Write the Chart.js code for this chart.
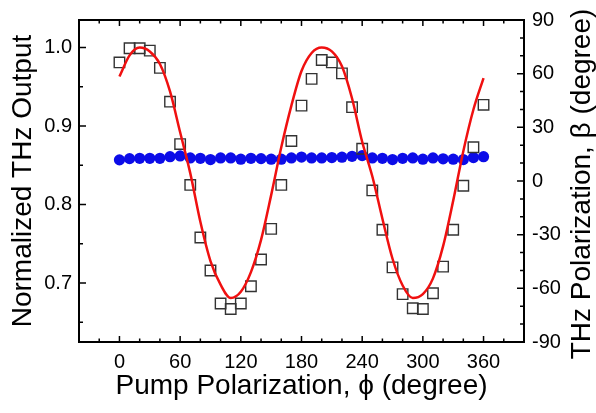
<!DOCTYPE html>
<html>
<head>
<meta charset="utf-8">
<script src="https://cdn.jsdelivr.net/npm/chart.js@4.4.0/dist/chart.umd.min.js"></script>
<style>
  html, body { margin: 0; padding: 0; background: #fff; }
</style>
</head>
<body>
<canvas id="chart" width="596" height="413"></canvas>
<script>
// --- DATA ---
const pumpAngles = [0, 10, 20, 30, 40, 50, 60, 70, 80, 90, 100, 110, 120, 130, 140, 150, 160, 170, 180,
                    190, 200, 210, 220, 230, 240, 250, 260, 270, 280, 290, 300, 310, 320, 330, 340, 350, 360];

// open squares, left axis
const thzOutput = [0.981, 0.999, 0.999, 0.996, 0.974, 0.931, 0.877, 0.825, 0.758, 0.716, 0.674, 0.667, 0.674,
                   0.696, 0.730, 0.769, 0.825, 0.881, 0.926, 0.960, 0.984, 0.981, 0.967, 0.924, 0.871, 0.818,
                   0.768, 0.720, 0.686, 0.668, 0.667, 0.687, 0.721, 0.768, 0.824, 0.873, 0.927];

// red fit curve, left axis
const fitOutput = [0.963, 0.990, 1.000, 0.995, 0.979, 0.944, 0.892, 0.840, 0.778, 0.728, 0.698, 0.681, 0.689,
                   0.714, 0.755, 0.812, 0.873, 0.926, 0.970, 0.993, 1.000, 0.995, 0.976, 0.935, 0.880, 0.836,
                   0.782, 0.731, 0.697, 0.681, 0.686, 0.706, 0.747, 0.805, 0.868, 0.921, 0.961];

// blue dots, right axis
const thzPolarization = [11.8, 12.5, 12.7, 12.7, 12.7, 13.6, 14.0, 12.9, 12.7, 12.0, 12.9, 12.9, 12.2,
                         12.7, 12.5, 12.2, 12.2, 12.9, 13.4, 12.9, 12.9, 13.1, 13.3, 13.8, 14.2, 12.9,
                         12.7, 12.0, 12.7, 12.9, 12.2, 12.9, 12.4, 12.2, 12.0, 13.1, 13.6];

const xTicks = [0, 60, 120, 180, 240, 300, 360];
const xMinorTicks = [-20, 20, 40, 80, 100, 140, 160, 200, 220, 260, 280, 320, 340, 380];
const leftTicks = [0.7, 0.8, 0.9, 1.0];
const leftMinorTicks = [0.65, 0.75, 0.85, 0.95];
const rightTicks = [-90, -60, -30, 0, 30, 60, 90];
const rightMinorTicks = [-80, -70, -50, -40, -20, -10, 10, 20, 40, 50, 70, 80];

const FONT = '"Liberation Sans", Arial, sans-serif';

const toPoints = (xs, ys) => xs.map((x, i) => ({ x: x, y: ys[i] }));

// --- inward ticks + frame ---
const frameAndTicks = {
    id: 'frameAndTicks',
    afterDatasetsDraw(chart) {
        const { ctx, chartArea: a, scales } = chart;
        ctx.save();
        ctx.strokeStyle = '#000';
        ctx.lineWidth = 1.5;
        ctx.beginPath();
        const vTick = (v, len) => {
            const px = scales.x.getPixelForValue(v);
            ctx.moveTo(px, a.bottom); ctx.lineTo(px, a.bottom - len);
            ctx.moveTo(px, a.top); ctx.lineTo(px, a.top + len);
        };
        xTicks.forEach(v => vTick(v, 6));
        xMinorTicks.forEach(v => vTick(v, 3.5));
        const lTick = (v, len) => {
            const py = scales.y.getPixelForValue(v);
            ctx.moveTo(a.left, py); ctx.lineTo(a.left + len, py);
        };
        leftTicks.forEach(v => lTick(v, 7));
        leftMinorTicks.forEach(v => lTick(v, 4));
        const rTick = (v, len) => {
            const py = scales.y1.getPixelForValue(v);
            ctx.moveTo(a.right, py); ctx.lineTo(a.right - len, py);
        };
        rightTicks.forEach(v => rTick(v, 7));
        rightMinorTicks.forEach(v => rTick(v, 4));
        ctx.stroke();

        ctx.lineWidth = 2;
        ctx.strokeRect(a.left, a.top, a.right - a.left, a.bottom - a.top);

        // right title reads bottom to top, like the left one
        ctx.fillStyle = '#000';
        ctx.font = '28px ' + FONT;
        ctx.textAlign = 'center';
        ctx.textBaseline = 'middle';
        ctx.translate(582, 184);
        ctx.rotate(-Math.PI / 2);
        ctx.fillText('THz Polarization, \u03B2 (degree)', 0, 0);
        ctx.restore();
    }
};

new Chart(document.getElementById('chart'), {
    type: 'scatter',
    data: {
        datasets: [
            {
                label: 'fit',
                type: 'line',
                data: toPoints(pumpAngles, fitOutput),
                borderColor: '#f01010',
                borderWidth: 2.5,
                pointRadius: 0,
                fill: false,
                cubicInterpolationMode: 'monotone',
                yAxisID: 'y'
            },
            {
                label: 'THz output',
                data: toPoints(pumpAngles, thzOutput),
                pointStyle: 'rect',
                pointRadius: 7.4,
                backgroundColor: 'rgba(0,0,0,0)',
                borderColor: '#333',
                borderWidth: 1.4,
                yAxisID: 'y'
            },
            {
                label: 'THz polarization',
                data: toPoints(pumpAngles, thzPolarization),
                pointStyle: 'circle',
                pointRadius: 5.6,
                backgroundColor: '#0c0ce8',
                borderColor: '#0c0ce8',
                borderWidth: 0,
                yAxisID: 'y1'
            }
        ]
    },
    options: {
        responsive: false,
        animation: false,
        layout: { padding: { top: 12, left: 0, right: 0, bottom: 0 } },
        plugins: { legend: { display: false }, tooltip: { enabled: false } },
        scales: {
            x: {
                type: 'linear',
                min: -40,
                max: 400,
                afterBuildTicks: s => { s.ticks = xTicks.map(v => ({ value: v })); },
                afterFit: s => { s.height = 71; },
                grid: { display: false, drawTicks: false },
                border: { display: false },
                ticks: { padding: 8, color: '#000', font: { family: FONT, size: 20 } },
                title: {
                    display: true,
                    text: 'Pump Polarization, \u03D5 (degree)',
                    color: '#000',
                    font: { family: FONT, size: 28 },
                    padding: { top: 0, bottom: 10 }
                }
            },
            y: {
                position: 'left',
                min: 0.625,
                max: 1.035,
                afterBuildTicks: s => { s.ticks = leftTicks.map(v => ({ value: v })); },
                afterFit: s => { s.width = 79; },
                grid: { display: false, drawTicks: false },
                border: { display: false },
                ticks: {
                    padding: 7,
                    color: '#000',
                    font: { family: FONT, size: 20 },
                    callback: v => v.toFixed(1)
                },
                title: {
                    display: true,
                    text: 'Normalized THz Output',
                    color: '#000',
                    font: { family: FONT, size: 28 },
                    padding: { top: 6, bottom: 0 }
                }
            },
            y1: {
                position: 'right',
                min: -90,
                max: 90,
                afterBuildTicks: s => { s.ticks = rightTicks.map(v => ({ value: v })); },
                afterFit: s => { s.width = 72; },
                grid: { display: false, drawTicks: false },
                border: { display: false },
                ticks: { padding: 8, color: '#000', font: { family: FONT, size: 20 } }
            }
        }
    },
    plugins: [frameAndTicks]
});
</script>
</body>
</html>
